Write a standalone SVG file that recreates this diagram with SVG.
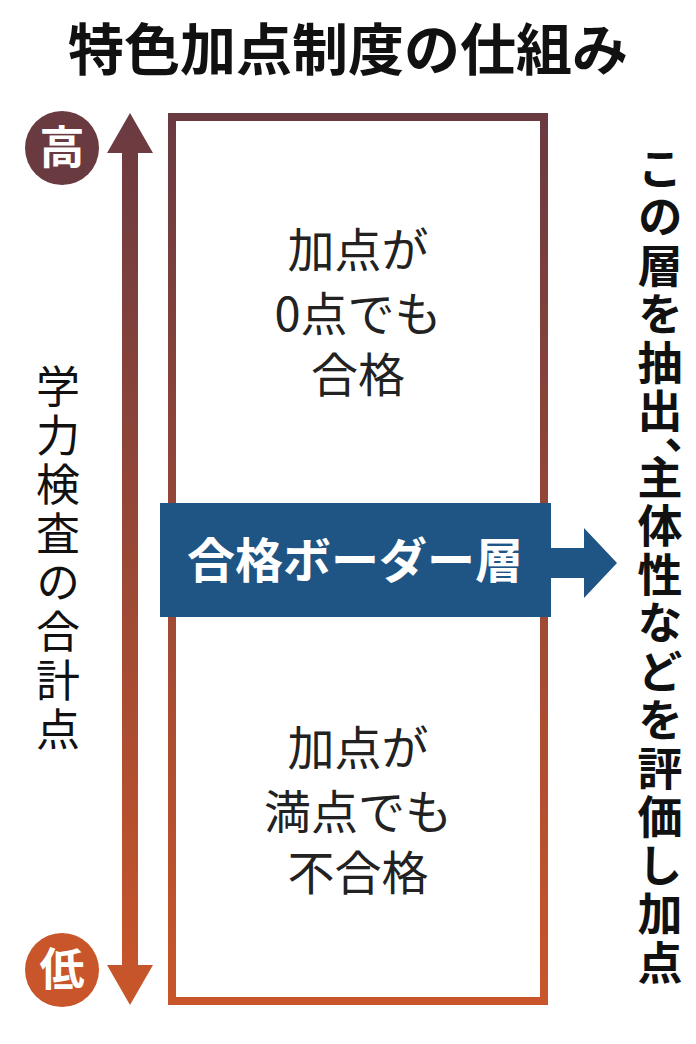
<svg xmlns="http://www.w3.org/2000/svg" width="696" height="1044" viewBox="0 0 696 1044">
<defs>
<linearGradient id="g" x1="0" y1="113" x2="0" y2="1005" gradientUnits="userSpaceOnUse">
<stop offset="0" stop-color="#6a3a41"/>
<stop offset="1" stop-color="#c9562a"/>
</linearGradient>
<style>
.j{font-family:"Noto Sans CJK JP","Noto Sans CJK SC",sans-serif}
.b{font-weight:bold}
.in{font-size:47px;fill:#222;text-anchor:middle}
.v{writing-mode:vertical-rl;fill:#111}
</style>
</defs>
<rect width="696" height="1044" fill="#fff"/>
<g id="title"><text class="j b" x="348" y="70" font-size="56" text-anchor="middle" fill="#111">特色加点制度の仕組み</text></g>
<g id="high"><circle cx="62" cy="148" r="37" fill="#6a3a41"/><text class="j b" x="62" y="164" font-size="45" text-anchor="middle" fill="#fff">高</text></g>
<g id="low"><circle cx="62" cy="970" r="37" fill="#c9562a"/><text class="j b" x="62" y="986" font-size="45" text-anchor="middle" fill="#fff">低</text></g>
<g id="connectors">
<path d="M130 113 L153 153 L138 153 L138 965 L153 965 L130 1005 L107 965 L122 965 L122 153 L107 153 Z" fill="url(#g)"/>
<path d="M551 548 L584 548 L584 528 L617 563 L584 598 L584 578 L551 578 Z" fill="#1f5585"/>
</g>
<g id="box"><rect x="172" y="117" width="372" height="884" fill="none" stroke="url(#g)" stroke-width="8"/></g>
<g id="upper" class="j in">
<text x="358" y="267">加点が</text>
<text x="358" y="331">0点でも</text>
<text x="358" y="392">合格</text>
</g>
<g id="lower" class="j in">
<text x="358" y="765">加点が</text>
<text x="358" y="829">満点でも</text>
<text x="358" y="890">不合格</text>
</g>
<g id="border"><rect x="160" y="503" width="391" height="114" fill="#1f5585"/><text class="j b" x="355" y="578" font-size="48" text-anchor="middle" fill="#fff">合格ボーダー層</text></g>
<g id="axislabel"><text class="j v" x="58" y="364" font-size="44" letter-spacing="5">学力検査の合計点</text></g>
<g id="note" class="j b v" font-size="45" letter-spacing="3.5">
<text x="660" y="146">この層を抽出、</text>
<text x="660" y="455">主体性などを評価し加点</text>
</g>
</svg>
